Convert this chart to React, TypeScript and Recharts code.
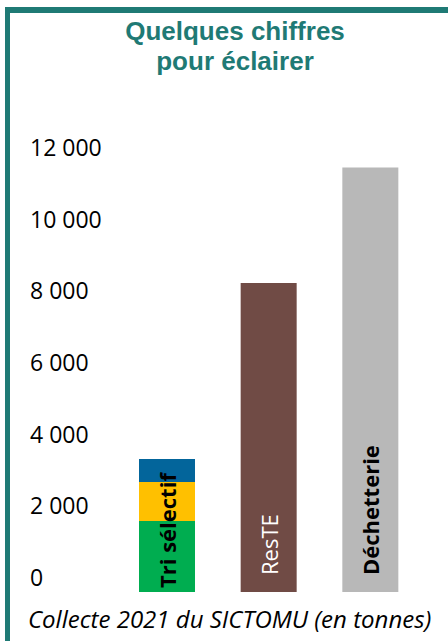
import React from 'react'
import { BarChart, Bar, XAxis, YAxis, Cell, LabelList } from 'recharts'

const categories = ['Tri sélectif', 'ResTE', 'Déchetterie']
const triVert = [1980, 0, 0]
const triJaune = [1090, 0, 0]
const triBleu = [640, 0, 0]
const principal = [0, 8620, 11850]
const yTicks = [0, 2000, 4000, 6000, 8000, 10000, 12000]

const teal = '#1f7a75'
const mainColors = ['#ffffff', '#704b45', '#b8b8b8']

// style of the text written up inside each bar
const labelStyles: Record<string, { bold: boolean; color: string; offset: number; size: number }> = {
  'Tri sélectif': { bold: true, color: '#000', offset: 4, size: 22 },
  ResTE: { bold: false, color: '#fff', offset: 17, size: 22 },
  Déchetterie: { bold: true, color: '#000', offset: 17, size: 22 },
}

const data = categories.map((name, i) => ({
  name,
  vert: triVert[i],
  jaune: triJaune[i],
  bleu: triBleu[i],
  principal: principal[i],
}))

const formatTick = (v: number) => (v === 0 ? '0' : `${Math.floor(v / 1000)} 000`)

const YTick = ({ y, payload }: any) => (
  <text x={30} y={y - 15} dominantBaseline="central" fontFamily="Open Sans" fontSize={23} fill="#000">
    {formatTick(payload.value)}
  </text>
)

function barLabel(names: string[]) {
  return (props: any) => {
    const { x, y, width, height, value } = props
    if (!names.includes(value)) return null
    const s = labelStyles[value]
    const cx = x + width / 2
    const by = y + height - s.offset
    return (
      <text
        x={cx}
        y={by}
        transform={`rotate(-90 ${cx} ${by})`}
        dominantBaseline="central"
        textAnchor="start"
        fontFamily="Open Sans"
        fontSize={s.size}
        fontWeight={s.bold ? 700 : 400}
        fill={s.color}
      >
        {value}
      </text>
    )
  }
}

export default function App() {
  return (
    <div style={{ position: 'absolute', left: 0, top: 0, width: 448, height: 641, background: '#fff', overflow: 'hidden' }}>
      <div style={{ position: 'absolute', left: 5, top: 7, width: 443, height: 6, background: teal }} />
      <div style={{ position: 'absolute', left: 5, top: 7, width: 5, height: 634, background: teal }} />
      <div
        style={{
          position: 'absolute',
          left: 10,
          top: 16,
          width: 450,
          textAlign: 'center',
          fontFamily: 'Liberation Sans',
          fontWeight: 700,
          fontSize: 26,
          lineHeight: '30px',
          color: teal,
        }}
      >
        Quelques chiffres
        <br />
        pour éclairer
      </div>
      <BarChart width={448} height={641} data={data} margin={{ top: 162, right: 27, bottom: 49, left: 0 }}>
        <YAxis
          width={60}
          domain={[0, 12000]}
          ticks={yTicks}
          axisLine={false}
          tickLine={false}
          tick={<YTick />}
        />
        <XAxis dataKey="name" height={0} tick={false} tickLine={false} axisLine={{ stroke: '#8c8c8c', strokeWidth: 1.5 }} padding={{ left: 56, right: 0 }} />
        <Bar dataKey="vert" stackId="t" fill="#00ad50" barSize={56} isAnimationActive={false}>
          <LabelList dataKey="name" content={barLabel(['Tri sélectif'])} />
        </Bar>
        <Bar dataKey="jaune" stackId="t" fill="#ffc000" barSize={56} isAnimationActive={false} />
        <Bar dataKey="bleu" stackId="t" fill="#03659b" barSize={56} isAnimationActive={false} />
        <Bar dataKey="principal" stackId="t" barSize={56} isAnimationActive={false}>
          {data.map((d, i) => (
            <Cell key={d.name} fill={mainColors[i]} />
          ))}
          <LabelList dataKey="name" content={barLabel(['ResTE', 'Déchetterie'])} />
        </Bar>
      </BarChart>
      <div
        style={{
          position: 'absolute',
          left: 28,
          top: 603,
          fontFamily: 'Open Sans',
          fontStyle: 'italic',
          fontSize: 24,
          lineHeight: '32px',
          color: '#000',
          whiteSpace: 'nowrap',
        }}
      >
        Collecte 2021 du SICTOMU (en tonnes)
      </div>
    </div>
  )
}
